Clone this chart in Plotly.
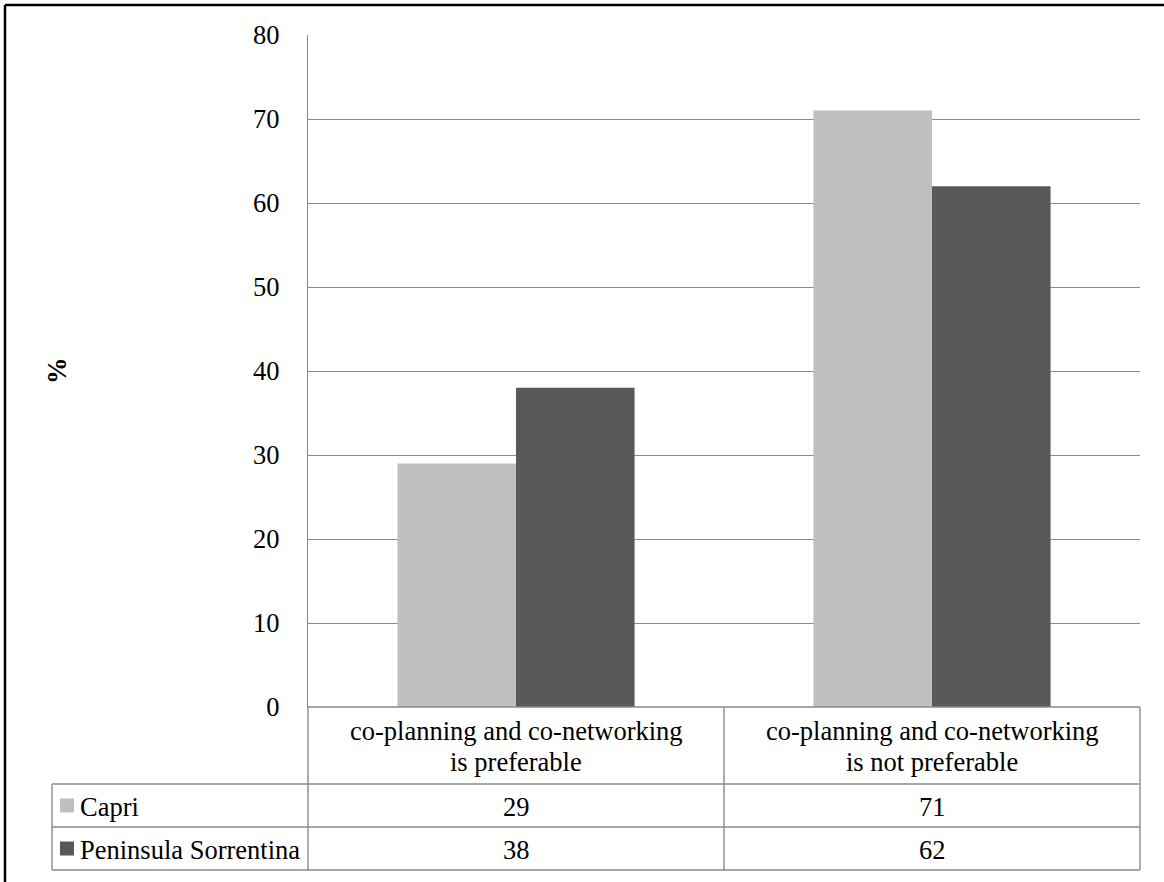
import plotly.graph_objects as go

categories = [["co-planning and co-networking", "is preferable"],
              ["co-planning and co-networking", "is not preferable"]]
series_names = ["Capri", "Peninsula Sorrentina"]
capri = [29, 71]
sorrentina = [38, 62]
series_values = [capri, sorrentina]
colors = ["#BFBFBF", "#595959"]
y_ticks = [0, 10, 20, 30, 40, 50, 60, 70, 80]

W, H = 1164, 882
FONT = "Liberation Serif, Times New Roman, serif"
FS = 26.5
GRID = "#8A8A8A"

def px(x):
    return x / W

def py(y):
    return 1 - y / H

# layout in pixels
L, R, T, B = 308, 1140, 35, 707
TL = 52
rows = [707, 784, 827, 870]

fig = go.Figure()
for name, vals, col in zip(series_names, series_values, colors):
    fig.add_trace(go.Bar(x=[0, 1], y=vals, name=name, marker_color=col,
                         marker_line_width=0, showlegend=False))

shapes = []
def line(x0, y0, x1, y1, color=GRID, width=1.4):
    shapes.append(dict(type="line", xref="paper", yref="paper",
                       x0=px(x0), y0=py(y0), x1=px(x1), y1=py(y1),
                       line=dict(color=color, width=width)))

# table horizontal lines
line(L, rows[0], R, rows[0])
for yy in rows[1:]:
    line(TL, yy, R, yy)
# table vertical lines
line(L, rows[0], L, rows[3])
mid = (L + R) / 2
line(mid, rows[0], mid, rows[3])
line(R, rows[0], R, rows[3])
line(TL, rows[1], TL, rows[3])

# outer border (top and left)
line(5, 5, W + 5, 5, color="#000000", width=2.5)
line(5, 5, 5, H + 5, color="#000000", width=2.5)

annotations = []
def text(x, y, s, xanchor="center", angle=0):
    annotations.append(dict(xref="paper", yref="paper", x=px(x), y=py(y), text=s,
                            showarrow=False, xanchor=xanchor, yanchor="middle",
                            textangle=angle, borderpad=0,
                            font=dict(family=FONT, size=FS, color="#000000")))

centers = [(L + mid) / 2, (mid + R) / 2]
for c, cat in zip(centers, categories):
    text(c, 731, cat[0])
    text(c, 762, cat[1])

row_centers = [(rows[1] + rows[2]) / 2, (rows[2] + rows[3]) / 2]
for rc, name, vals, col in zip(row_centers, series_names, series_values, colors):
    shapes.append(dict(type="rect", xref="paper", yref="paper",
                       x0=px(60), x1=px(74), y0=py(rc - 7), y1=py(rc + 7),
                       fillcolor=col, line=dict(width=0)))
    text(79, rc + 1, name, xanchor="left")
    for c, v in zip(centers, vals):
        text(c, rc + 1.5, str(v))

text(57, 371, "<b>%</b>", angle=-90)

fig.update_layout(
    width=W, height=H,
    margin=dict(l=0, r=0, t=0, b=0, autoexpand=False),
    paper_bgcolor="white", plot_bgcolor="white",
    barmode="group", bargap=0.43, bargroupgap=0,
    font=dict(family=FONT, size=FS, color="#000000"),
    shapes=shapes, annotations=annotations,
    xaxis=dict(domain=[px(L), px(R)], range=[-0.5, 1.5], showticklabels=False,
               showgrid=False, zeroline=False, showline=False, fixedrange=True,
               automargin=False),
    yaxis=dict(domain=[py(B), py(T)], range=[0, 80], tickvals=y_ticks,
               showgrid=True, gridcolor=GRID, gridwidth=1.4, zeroline=False,
               showline=True, linecolor=GRID, linewidth=1.4,
               ticks="", ticklabelstandoff=22, automargin=False,
               tickfont=dict(family=FONT, size=FS, color="#000000")),
)

fig.write_html("out.html")
